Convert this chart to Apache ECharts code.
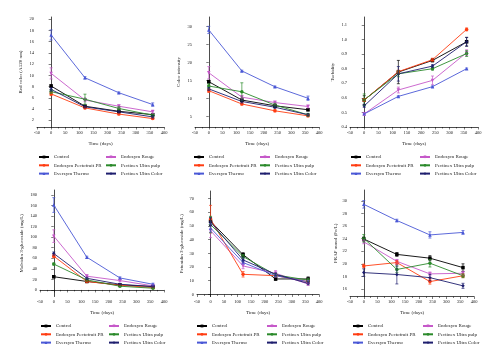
<!DOCTYPE html>
<html><head><meta charset="utf-8">
<script src="https://cdn.jsdelivr.net/npm/echarts@6/dist/echarts.min.js"></script>
<style>html,body{margin:0;padding:0;background:#fff}#c{width:500px;height:363px}</style>
</head><body><div id="c"></div>
<script>
// ---------- data ----------
const seriesNames = ['Control', 'Endozym Rouge', 'Endozym Pectofruit PR', 'Pectinex Ultra pulp', 'Everzym Thermo', 'Pectinex Ultra Color'];
const days = [0, 120, 240, 360];
const xTicks = [-50, 0, 50, 100, 150, 200, 250, 300, 350, 400];

// order of rows follows seriesNames
const redColor = [[8.1, 4.5, 3.6, 3.0], [10.35, 5.6, 4.5, 3.5], [6.7, 4.2, 3.1, 2.3], [7.1, 5.75, 4.1, 2.9], [17.2, 9.57, 6.9, 4.8], [7.5, 4.4, 3.5, 2.6]];
const redColorErr = [[0.25, 0.2, 0.2, 0.2], [1.0, 0.3, 0.3, 0.3], [0.3, 0.15, 0.15, 0.15], [0.3, 0.9, 0.3, 0.2], [0.9, 0.2, 0.15, 0.3], [0.3, 0.2, 0.2, 0.2]];
const redColorTicks = [2, 4, 6, 8, 10, 12, 14, 16, 18, 20];

const colorIntensity = [[14.7, 9.6, 8.0, 6.9], [17.2, 10.4, 8.9, 7.8], [12.2, 8.5, 6.6, 5.2], [13.5, 11.9, 8.2, 5.5], [29.1, 17.7, 13.3, 10.1], [12.7, 9.2, 7.6, 5.5]];
const colorIntensityErr = [[0.4, 0.5, 0.4, 0.3], [1.7, 0.5, 0.4, 0.4], [0.5, 0.3, 0.3, 0.3], [0.6, 2.5, 0.5, 0.4], [1.0, 0.2, 0.2, 0.6], [0.4, 0.4, 0.3, 0.3]];
const colorIntensityTicks = [5, 10, 15, 20, 25, 30];

const turbidity = [[0.585, 0.777, 0.857, 0.985], [0.49, 0.654, 0.72, 0.91], [0.585, 0.78, 0.862, 1.07], [0.587, 0.765, 0.80, 0.904], [0.49, 0.61, 0.677, 0.80], [0.545, 0.765, 0.818, 0.985]];
const turbidityErr = [[0.03, 0.08, 0.01, 0.03], [0.01, 0.02, 0.03, 0.02], [0.01, 0.01, 0.01, 0.01], [0.04, 0.02, 0.01, 0.02], [0.005, 0.005, 0.005, 0.005], [0.01, 0.05, 0.01, 0.03]];
const turbidityTicks = [0.4, 0.5, 0.6, 0.7, 0.8, 0.9, 1.0, 1.1];

const malvidin = [[25, 16, 9.5, 6.5], [102, 26, 17.7, 7.6], [64, 16, 8.8, 4.4], [49, 19, 7, 3.2], [161, 62, 22.7, 10.7], [69, 22, 10.7, 6.3]];
const malvidinErr = [[2, 2, 1, 1], [12, 3, 2, 2], [3, 2, 1, 1], [2, 2, 1, 1], [14, 2, 2, 2], [3, 2, 1, 1]];
const malvidinTicks = [0, 20, 40, 60, 80, 100, 120, 140, 160, 180];

const petunidin = [[53.4, 29, 11.3, 11.3], [46.5, 20.8, 15.4, 7.6], [55, 14.7, 13.7, 9.3], [51, 27.7, 14.2, 10.5], [48.5, 23.3, 13.7, 9.3], [52.9, 25.2, 14.7, 8.1]];
const petunidinErr = [[3, 1.5, 1, 1.5], [5, 2, 2, 1], [10, 2, 1, 1], [6, 1.5, 1, 1], [3, 1, 1, 1], [3, 1.5, 1, 1]];
const petunidinTicks = [0, 10, 20, 30, 40, 50, 60, 70];

const frap = [[23.95, 21.5, 20.9, 19.4], [23.5, 20.4, 18.4, 18.5], [19.66, 20.2, 17.17, 18.1], [24.06, 19.1, 20.1, 18.1], [29.47, 26.9, 24.6, 25.0], [18.6, 18.3, 17.8, 16.5]];
const frapErr = [[0.3, 0.3, 0.4, 0.6], [0.3, 0.3, 0.3, 0.3], [0.3, 0.3, 0.4, 0.3], [0.6, 0.5, 0.6, 0.3], [0.6, 0.2, 0.5, 0.3], [0.6, 1.5, 0.5, 0.4]];
const frapTicks = [16, 18, 20, 22, 24, 26, 28, 30];

const yNames = ['Red color (A520 nm)', 'Color intensity', 'Turbidity', 'Malvidin 3-glucoside (mg/L)', 'Petunidin 3-glucoside (mg/L)', 'FRAP mmol (Fe/L)'];
const yDecimals = [0, 0, 1, 0, 0, 0];
const xName = 'Time (days)';

// ---------- styling / layout ----------
const colors = ['#000000', '#c659c9', '#ff3d12', '#2b8a2b', '#4a58d6', '#1e1e6e'];
const symbols = ['rect', 'triangle', 'circle', 'circle', 'triangle', 'diamond'];
const symRot = [0, 180, 0, 0, 0, 0];
const FONT = 'Liberation Serif';

const panels = [
  {vals: redColor, err: redColorErr, ticks: redColorTicks, left: 37, top: 17, width: 127, height: 110, min: 0.8, max: 20.4, gap: 14, leg: [38, 105, 153]},
  {vals: colorIntensity, err: colorIntensityErr, ticks: colorIntensityTicks, left: 195, top: 17, width: 124, height: 110, min: 2.1, max: 32.7, gap: 14, leg: [193, 259, 153]},
  {vals: turbidity, err: turbidityErr, ticks: turbidityTicks, left: 350, top: 17, width: 128, height: 110, min: 0.4, max: 1.155, gap: 15, leg: [350, 419, 153]},
  {vals: malvidin, err: malvidinErr, ticks: malvidinTicks, left: 40, top: 190, width: 124, height: 106.5, min: -12.5, max: 189.5, gap: 16, leg: [40, 108, 322]},
  {vals: petunidin, err: petunidinErr, ticks: petunidinTicks, left: 197, top: 191, width: 122, height: 105.5, min: -1.5, max: 75.5, gap: 13, leg: [196, 266, 322]},
  {vals: frap, err: frapErr, ticks: frapTicks, left: 350, top: 190, width: 124, height: 106.5, min: 14.8, max: 31.75, gap: 12, leg: [352, 422, 322]}
];

const grid = [], xAxis = [], yAxis = [], series = [], legend = [];
panels.forEach((p, i) => {
  grid.push({left: p.left, top: p.top, width: p.width, height: p.height, containLabel: false});
  xAxis.push({
    type: 'value', gridIndex: i, min: xTicks[0], max: xTicks[xTicks.length - 1], interval: 50,
    name: xName, nameLocation: 'middle', nameGap: 14,
    nameTextStyle: {fontFamily: FONT, fontSize: 5, color: '#222'},
    axisLine: {show: true, lineStyle: {color: '#000', width: 0.7}},
    axisTick: {show: true, length: 2.5, lineStyle: {color: '#000', width: 0.5}},
    minorTick: {show: true, splitNumber: 2, length: 1.5, lineStyle: {color: '#000', width: 0.5}},
    axisLabel: {fontFamily: FONT, fontSize: 4.5, color: '#222', margin: 3, showMinLabel: true, showMaxLabel: true},
    splitLine: {show: false}
  });
  const dec = yDecimals[i];
  yAxis.push({
    type: 'value', gridIndex: i, min: p.min, max: p.max,
    name: yNames[i], nameLocation: 'middle', nameGap: p.gap,
    nameTextStyle: {fontFamily: FONT, fontSize: 5, color: '#222'},
    axisLine: {show: true, lineStyle: {color: '#000', width: 0.7}},
    axisTick: {show: true, length: 2.5, customValues: p.ticks, lineStyle: {color: '#000', width: 0.5}},
    axisLabel: {fontFamily: FONT, fontSize: 4.5, color: '#222', margin: 3, customValues: p.ticks,
      formatter: v => Number(v).toFixed(dec)},
    splitLine: {show: false}
  });
  seriesNames.forEach((n, k) => {
    series.push({
      type: 'line', name: n, xAxisIndex: i, yAxisIndex: i,
      data: days.map((d, j) => [d, p.vals[k][j]]),
      symbol: symbols[k], symbolRotate: symRot[k], symbolSize: 3.5,
      lineStyle: {color: colors[k], width: 0.9}, itemStyle: {color: colors[k]},
      z: 2, animation: false
    });
    series.push({
      type: 'custom', name: 'err-' + n, xAxisIndex: i, yAxisIndex: i,
      data: days.map((d, j) => [d, p.vals[k][j], p.err[k][j]]),
      encode: {x: 0, y: 1}, z: 3, animation: false, silent: true,
      renderItem: (params, api) => {
        const x = api.value(0), y = api.value(1), e = api.value(2);
        const a = api.coord([x, y + e]), b = api.coord([x, y - e]);
        const w = 1.5, st = {stroke: colors[k], lineWidth: 0.7};
        return {type: 'group', children: [
          {type: 'line', shape: {x1: a[0], y1: a[1], x2: b[0], y2: b[1]}, style: st},
          {type: 'line', shape: {x1: a[0] - w, y1: a[1], x2: a[0] + w, y2: a[1]}, style: st},
          {type: 'line', shape: {x1: b[0] - w, y1: b[1], x2: b[0] + w, y2: b[1]}, style: st}
        ]};
      }
    });
  });
  const cols = [[0, 2, 4], [1, 3, 5]];
  cols.forEach((c, ci) => {
    legend.push({
      orient: 'vertical', left: p.leg[ci], top: p.leg[2],
      data: c.map(k => seriesNames[k]),
      itemWidth: 10, itemHeight: 3.5, itemGap: 0.3, padding: 0,
      textStyle: {fontFamily: FONT, fontSize: 5, color: '#222', lineHeight: 8}
    });
  });
});

const chart = echarts.init(document.getElementById('c'), null, {renderer: 'canvas'});
chart.setOption({backgroundColor: '#fff', animation: false, grid, xAxis, yAxis, series, legend});
</script></body></html>
